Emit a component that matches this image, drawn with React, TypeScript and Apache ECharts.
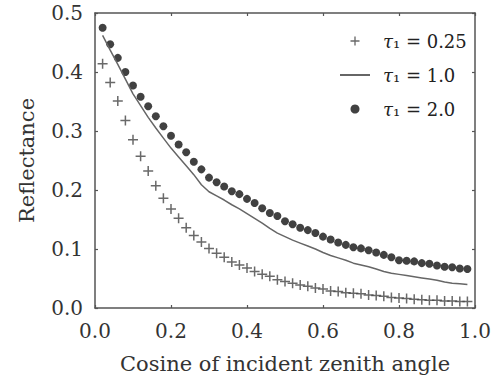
import React, { useEffect, useRef } from 'react';
import * as echarts from 'echarts';

const xValues = [
  0.02, 0.04, 0.06, 0.08, 0.10, 0.12, 0.14, 0.16, 0.18, 0.20,
  0.22, 0.24, 0.26, 0.28, 0.30, 0.32, 0.34, 0.36, 0.38, 0.40,
  0.42, 0.44, 0.46, 0.48, 0.50, 0.52, 0.54, 0.56, 0.58, 0.60,
  0.62, 0.64, 0.66, 0.68, 0.70, 0.72, 0.74, 0.76, 0.78, 0.80,
  0.82, 0.84, 0.86, 0.88, 0.90, 0.92, 0.94, 0.96, 0.98,
];

const tau025 = [
  0.414, 0.382, 0.351, 0.318, 0.285, 0.257, 0.232, 0.207, 0.186, 0.168,
  0.152, 0.136, 0.123, 0.112, 0.101, 0.093, 0.086, 0.078, 0.073, 0.068,
  0.062, 0.057, 0.054, 0.048, 0.045, 0.042, 0.039, 0.037, 0.034, 0.032,
  0.029, 0.028, 0.026, 0.025, 0.024, 0.022, 0.021, 0.020, 0.018, 0.017,
  0.016, 0.015, 0.014, 0.013, 0.013, 0.012, 0.012, 0.011, 0.011,
];

const tau10 = [
  0.462, 0.437, 0.413, 0.388, 0.363, 0.343, 0.323, 0.305, 0.288, 0.271,
  0.256, 0.241, 0.226, 0.209, 0.197, 0.190, 0.183, 0.175, 0.168, 0.160,
  0.152, 0.144, 0.135, 0.127, 0.121, 0.115, 0.110, 0.105, 0.100, 0.094,
  0.089, 0.085, 0.081, 0.076, 0.073, 0.070, 0.066, 0.062, 0.059, 0.057,
  0.055, 0.053, 0.051, 0.049, 0.047, 0.044, 0.042, 0.041, 0.040,
];

const tau20 = [
  0.475, 0.447, 0.424, 0.400, 0.377, 0.358, 0.342, 0.325, 0.308, 0.292,
  0.277, 0.264, 0.248, 0.235, 0.221, 0.213, 0.206, 0.198, 0.193, 0.185,
  0.178, 0.169, 0.161, 0.156, 0.147, 0.142, 0.136, 0.132, 0.127, 0.121,
  0.116, 0.111, 0.107, 0.103, 0.101, 0.098, 0.094, 0.090, 0.086, 0.081,
  0.080, 0.079, 0.076, 0.075, 0.072, 0.070, 0.069, 0.067, 0.066,
];

const seriesNames = ['τ₁ = 0.25', 'τ₁ = 1.0', 'τ₁ = 2.0'];
const xTitle = 'Cosine of incident zenith angle';
const yTitle = 'Reflectance';

const FONT = '"DejaVu Serif", serif';
const AXIS_COLOR = '#555';
const TEXT_COLOR = '#333';
const CROSS = 'path://M4.25,0H5.75V4.25H10V5.75H5.75V10H4.25V5.75H0V4.25H4.25Z';

const pairs = (ys: number[]) => xValues.map((x, i) => [x, ys[i]]);

export default function App() {
  const ref = useRef<HTMLDivElement>(null);
  useEffect(() => {
    if (!ref.current) return;
    const chart = echarts.init(ref.current, undefined, { renderer: 'svg' });
    const axisCommon = {
      type: 'value' as const,
      axisLine: { show: true, onZero: false, lineStyle: { color: AXIS_COLOR, width: 1.5 } },
      axisTick: { show: true, inside: true, length: 3, lineStyle: { color: AXIS_COLOR, width: 1.2 } },
      splitLine: { show: false },
    };
    chart.setOption({
      animation: false,
      backgroundColor: '#fff',
      grid: { left: 95, right: 22, top: 13, bottom: 66, containLabel: false },
      xAxis: [
        {
          ...axisCommon,
          min: 0, max: 1, interval: 0.2, position: 'bottom',
          axisLabel: {
            formatter: (v: number) => v.toFixed(1), fontFamily: FONT, fontSize: 20,
            color: TEXT_COLOR, margin: 13,
          },
          name: xTitle, nameLocation: 'middle', nameGap: 45,
          nameTextStyle: { fontFamily: FONT, fontSize: 21, color: TEXT_COLOR },
        },
        {
          ...axisCommon,
          min: 0, max: 1, interval: 0.2, position: 'top',
          axisLabel: { show: false },
        },
      ],
      yAxis: [
        {
          ...axisCommon,
          min: 0, max: 0.5, interval: 0.1, position: 'left',
          axisLabel: {
            formatter: (v: number) => v.toFixed(1), fontFamily: FONT, fontSize: 20,
            color: TEXT_COLOR, margin: 12,
          },
          name: yTitle, nameLocation: 'middle', nameGap: 58,
          nameTextStyle: { fontFamily: FONT, fontSize: 21, color: TEXT_COLOR },
        },
        {
          ...axisCommon,
          min: 0, max: 0.5, interval: 0.1, position: 'right',
          axisLabel: { show: false },
        },
      ],
      legend: {
        orient: 'vertical',
        left: 334,
        top: 27,
        itemWidth: 30,
        itemHeight: 9,
        itemGap: 16,
        data: [
          { name: seriesNames[0] },
          { name: seriesNames[1], itemStyle: { opacity: 0 } },
          { name: seriesNames[2], itemStyle: { color: '#111' } },
        ],
        formatter: (name: string) => name.replace('τ', '{i|τ}'),
        textStyle: {
          fontFamily: FONT, fontSize: 18, color: '#222', padding: [0, 0, 0, 8],
          rich: { i: { fontFamily: FONT, fontSize: 18, fontStyle: 'italic', color: '#222' } },
        },
      },
      series: [
        {
          name: seriesNames[0], type: 'scatter', data: pairs(tau025),
          symbol: CROSS, symbolSize: 10, itemStyle: { color: '#444' },
        },
        {
          name: seriesNames[1], type: 'line', data: pairs(tau10),
          symbol: 'none', showSymbol: false, lineStyle: { color: '#666', width: 1.5 },
          itemStyle: { color: '#666', opacity: 0 },
        },
        {
          name: seriesNames[2], type: 'scatter', data: pairs(tau20),
          symbol: 'circle', symbolSize: 8, itemStyle: { color: '#111' },
        },
      ],
    });
    return () => chart.dispose();
  }, []);
  return (
    <div
      ref={ref}
      style={{ position: 'absolute', left: 0, top: 0, width: 497, height: 379, background: '#fff' }}
    />
  );
}
